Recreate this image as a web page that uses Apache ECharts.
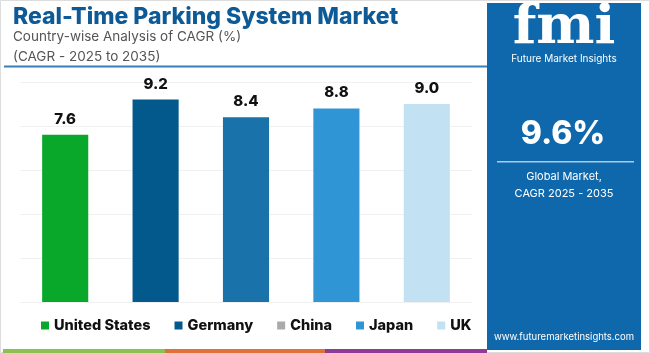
<!DOCTYPE html>
<html>
<head>
<meta charset="utf-8">
<script src="https://cdn.jsdelivr.net/npm/echarts@6/dist/echarts.min.js"></script>
<style>
  html, body { margin: 0; padding: 0; background: #fff; }
  #main { width: 650px; height: 353px; }
</style>
</head>
<body>
<div id="main"></div>
<script>
// data
var countries = ['United States', 'Germany', 'China', 'Japan', 'UK'];
var cagr = [7.6, 9.2, 8.4, 8.8, 9.0];
var barColors = ['#0aa82a', '#03588c', '#1a72ab', '#3095d5', '#c2e1f2'];
var legendColors = ['#0aa82a', '#03588c', '#aaaaaa', '#3095d5', '#c2e1f2'];

var chart = echarts.init(document.getElementById('main'));
var font = 'Inter, "Noto Sans", sans-serif';

// one series per country, stacked so each sits in its own slot
var series = countries.map(function (name, i) {
  return {
    name: name,
    type: 'bar',
    stack: 'all',
    barWidth: '51%',
    itemStyle: { color: barColors[i] },
    label: {
      show: true, position: 'top', distance: 8,
      color: '#111', fontFamily: font, fontWeight: 800, fontSize: 15,
      formatter: function (p) { return p.value.toFixed(1); }
    },
    data: countries.map(function (c, j) { return j === i ? cagr[i] : null; })
  };
});

chart.setOption({
  animation: false,
  title: {
    text: 'Real-Time Parking System Market',
    subtext: 'Country-wise Analysis of CAGR (%)\n(CAGR - 2025 to 2035)',
    left: 8, top: 1,
    textStyle: { fontFamily: font, fontWeight: 800, fontSize: 23, color: '#0d5a96' },
    subtextStyle: { fontFamily: font, fontSize: 13.5, color: '#555', lineHeight: 20 },
    itemGap: -2
  },
  grid: { left: 20, right: 178, top: 82, bottom: 51 },
  xAxis: {
    type: 'category', data: countries,
    axisLine: { show: false }, axisTick: { show: false }, axisLabel: { show: false }
  },
  yAxis: {
    type: 'value', min: 0, max: 10, interval: 2,
    axisLabel: { show: false },
    splitLine: { lineStyle: { color: '#f0f0f0' } }
  },
  legend: {
    bottom: 15, left: 36,
    itemWidth: 8, itemHeight: 8, itemGap: 24,
    icon: 'rect',
    textStyle: { fontFamily: font, fontWeight: 800, fontSize: 14.5, color: '#111' },
    data: countries.map(function (c, i) {
      return { name: c, itemStyle: { color: legendColors[i] } };
    })
  },
  series: series,
  graphic: [
    { type: 'rect', shape: { x: 0.5, y: 0.5, width: 649, height: 352 },
      style: { fill: 'none', stroke: '#dddddd', lineWidth: 1 }, silent: true },
    { type: 'rect', shape: { x: 4, y: 65.5, width: 483, height: 2 }, style: { fill: '#3a7fb8' } },
    { type: 'rect', shape: { x: 3, y: 349, width: 162, height: 4 }, style: { fill: '#8cc152' } },
    { type: 'rect', shape: { x: 165, y: 349, width: 160, height: 4 }, style: { fill: '#e0703a' } },
    { type: 'rect', shape: { x: 325, y: 349, width: 162, height: 4 }, style: { fill: '#8e3a96' } },
    { type: 'rect', shape: { x: 487, y: 3, width: 154, height: 347 }, style: { fill: '#0f68ac' } },
    { type: 'text', x: 564, y: 1, style: {
        text: 'fmi', fill: '#ffffff', font: 'bold 55px "DejaVu Serif", serif', align: 'center' } },
    { type: 'text', x: 564, y: 54, style: {
        text: 'Future Market Insights', fill: '#ffffff', font: '10px ' + font, align: 'center' } },
    { type: 'text', x: 563, y: 118, style: {
        text: '9.6%', fill: '#ffffff', font: '800 32px ' + font, align: 'center' } },
    { type: 'rect', shape: { x: 497, y: 161, width: 137, height: 1.5 }, style: { fill: '#a9cdea' } },
    { type: 'text', x: 564, y: 168, style: {
        text: 'Global Market,\nCAGR 2025 - 2035', fill: '#ffffff', font: '11px ' + font,
        align: 'center', lineHeight: 17 } },
    { type: 'text', x: 564, y: 332, style: {
        text: 'www.futuremarketinsights.com', fill: '#ffffff', font: '9.5px ' + font, align: 'center' } }
  ]
});
</script>
</body>
</html>
